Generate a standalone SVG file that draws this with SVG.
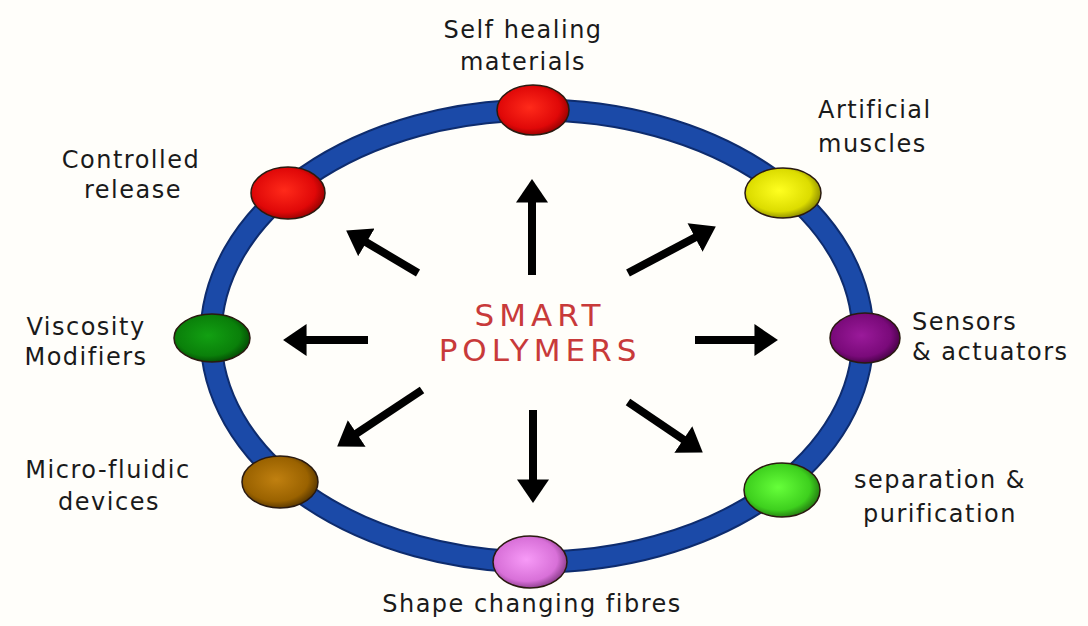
<svg xmlns="http://www.w3.org/2000/svg" width="1088" height="626" viewBox="0 0 1088 626">
<style>
.lbl{font-family:"DejaVu Sans","Liberation Sans",sans-serif;font-size:24px;fill:#1a1a1a;letter-spacing:1.5px}
.c{text-anchor:middle}
.title{font-family:"DejaVu Sans","Liberation Sans",sans-serif;font-size:31px;fill:#c83a3a;text-anchor:middle;letter-spacing:5px}
.ball{stroke:#2a1a10;stroke-width:1.5}
.arr{stroke:#000;stroke-width:8;fill:none;marker-end:url(#ah)}
</style>
<defs>
<marker id="ah" markerUnits="userSpaceOnUse" markerWidth="24" markerHeight="32" refX="8" refY="15" orient="auto" viewBox="0 0 22 30">
<path d="M0,0 L22,15 L0,30 z" fill="#000"/>
</marker>
<radialGradient id="gRed" cx="0.45" cy="0.45" r="0.6"><stop offset="0" stop-color="#ff2a1a"/><stop offset="0.7" stop-color="#e00808"/><stop offset="1" stop-color="#8a0000"/></radialGradient>
<radialGradient id="gYel" cx="0.45" cy="0.45" r="0.6"><stop offset="0" stop-color="#ffff20"/><stop offset="0.7" stop-color="#dcdc00"/><stop offset="1" stop-color="#7a7a00"/></radialGradient>
<radialGradient id="gPur" cx="0.45" cy="0.45" r="0.6"><stop offset="0" stop-color="#9a1a9a"/><stop offset="0.7" stop-color="#7a0a7a"/><stop offset="1" stop-color="#3e003e"/></radialGradient>
<radialGradient id="gLgr" cx="0.45" cy="0.45" r="0.6"><stop offset="0" stop-color="#66ff3a"/><stop offset="0.7" stop-color="#3ed01e"/><stop offset="1" stop-color="#1e6a0e"/></radialGradient>
<radialGradient id="gPink" cx="0.45" cy="0.45" r="0.6"><stop offset="0" stop-color="#f79af7"/><stop offset="0.7" stop-color="#d870d8"/><stop offset="1" stop-color="#7a307a"/></radialGradient>
<radialGradient id="gBrn" cx="0.45" cy="0.45" r="0.6"><stop offset="0" stop-color="#c08010"/><stop offset="0.7" stop-color="#9a6200"/><stop offset="1" stop-color="#4a2e00"/></radialGradient>
<radialGradient id="gGrn" cx="0.45" cy="0.45" r="0.6"><stop offset="0" stop-color="#12a012"/><stop offset="0.7" stop-color="#0a800a"/><stop offset="1" stop-color="#034003"/></radialGradient>
</defs>
<rect width="1088" height="626" fill="#fffefa"/>
<g id="ring">
<ellipse cx="537" cy="336" rx="326" ry="226" fill="none" stroke="#0e2c6e" stroke-width="23"/>
<ellipse cx="537" cy="336" rx="326" ry="226" fill="none" stroke="#1b4aa8" stroke-width="19"/>
</g>
<g id="connectors">
<line class="arr" x1="532" y1="275" x2="532" y2="194"/>
<line class="arr" x1="533" y1="410" x2="533" y2="488"/>
<line class="arr" x1="368" y1="340" x2="298" y2="340"/>
<line class="arr" x1="695" y1="340" x2="763" y2="340"/>
<line class="arr" x1="418" y1="273" x2="359" y2="238"/>
<line class="arr" x1="628" y1="273" x2="702.6" y2="233.5"/>
<line class="arr" x1="422" y1="390" x2="349.6" y2="438.2"/>
<line class="arr" x1="628" y1="402" x2="690.4" y2="444.2"/>
</g>
<g id="center">
<text class="title" x="540" y="326">SMART</text>
<text class="title" x="540" y="361">POLYMERS</text>
</g>
<g id="self-healing">
<ellipse class="ball" cx="533" cy="110" rx="36" ry="25" fill="url(#gRed)"/>
<text class="lbl c" x="523" y="38">Self healing</text>
<text class="lbl c" x="523" y="70">materials</text>
</g>
<g id="artificial-muscles">
<ellipse class="ball" cx="783" cy="193" rx="38" ry="25" fill="url(#gYel)"/>
<text class="lbl" x="818" y="118">Artificial</text>
<text class="lbl" x="818" y="152">muscles</text>
</g>
<g id="controlled-release">
<ellipse class="ball" cx="288" cy="193" rx="37" ry="26" fill="url(#gRed)"/>
<text class="lbl c" x="131" y="168">Controlled</text>
<text class="lbl c" x="133" y="198">release</text>
</g>
<g id="viscosity">
<ellipse class="ball" cx="212" cy="338" rx="38" ry="24" fill="url(#gGrn)"/>
<text class="lbl c" x="86" y="335">Viscosity</text>
<text class="lbl c" x="86" y="365">Modifiers</text>
</g>
<g id="sensors">
<ellipse class="ball" cx="865" cy="338" rx="35" ry="25" fill="url(#gPur)"/>
<text class="lbl" x="912" y="330">Sensors</text>
<text class="lbl" x="912" y="360">&amp; actuators</text>
</g>
<g id="micro-fluidic">
<ellipse class="ball" cx="280" cy="482" rx="38" ry="26" fill="url(#gBrn)"/>
<text class="lbl c" x="108" y="478">Micro-fluidic</text>
<text class="lbl c" x="109" y="510">devices</text>
</g>
<g id="separation">
<ellipse class="ball" cx="782" cy="490" rx="38" ry="27" fill="url(#gLgr)"/>
<text class="lbl c" x="940" y="488">separation &amp;</text>
<text class="lbl c" x="940" y="522">purification</text>
</g>
<g id="shape-changing">
<ellipse class="ball" cx="530" cy="562" rx="37" ry="26" fill="url(#gPink)"/>
<text class="lbl c" x="532" y="612">Shape changing fibres</text>
</g>
</svg>
